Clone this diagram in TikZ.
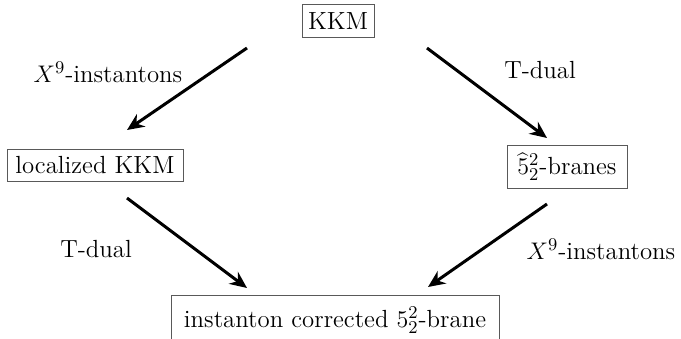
\documentclass[tikz,border=0pt]{standalone}
\usetikzlibrary{arrows.meta}
\begin{document}
\begin{tikzpicture}[x=0.5pt,y=-0.5pt,
  box/.style={draw=black!65,line width=0.5pt,inner xsep=3pt,inner ysep=3.8pt,font=\fontsize{12.4pt}{15pt}\selectfont},
  lab/.style={inner sep=0pt,font=\fontsize{12.4pt}{15pt}\selectfont},
  arr/.style={line width=1.5pt,-{Stealth[length=8.5pt,width=7.5pt]}}]
\useasboundingbox (0,0) rectangle (681,338);
\node[box,minimum width=36pt] (kkm) at (338,21) {KKM};
\node[box,minimum width=88pt] (loc) at (95,165.5) {localized KKM};
\node[box,minimum width=60pt] (bra) at (567,167) {$\widehat{5}^2_2$-branes};
\node[box,anchor=north,minimum width=164pt,minimum height=25pt] (inst) at (335,295) {instanton corrected $5^2_2$-brane};
\node[lab] (l1) at (108,72) {$X^9$-instantons};
\node[lab] (l2) at (540,70) {T-dual};
\node[lab] (l3) at (96,249) {T-dual};
\node[lab] (l4) at (601,249) {$X^9$-instantons};
\coordinate (a1s) at (247,48);  \coordinate (a1e) at (127,130);
\coordinate (a2s) at (427,48);  \coordinate (a2e) at (547,138);
\coordinate (a3s) at (127,198); \coordinate (a3e) at (247,288);
\coordinate (a4s) at (547,204); \coordinate (a4e) at (428,287);
\draw[arr] (a1s) -- (a1e);
\draw[arr] (a2s) -- (a2e);
\draw[arr] (a3s) -- (a3e);
\draw[arr] (a4s) -- (a4e);
\end{tikzpicture}
\end{document}
